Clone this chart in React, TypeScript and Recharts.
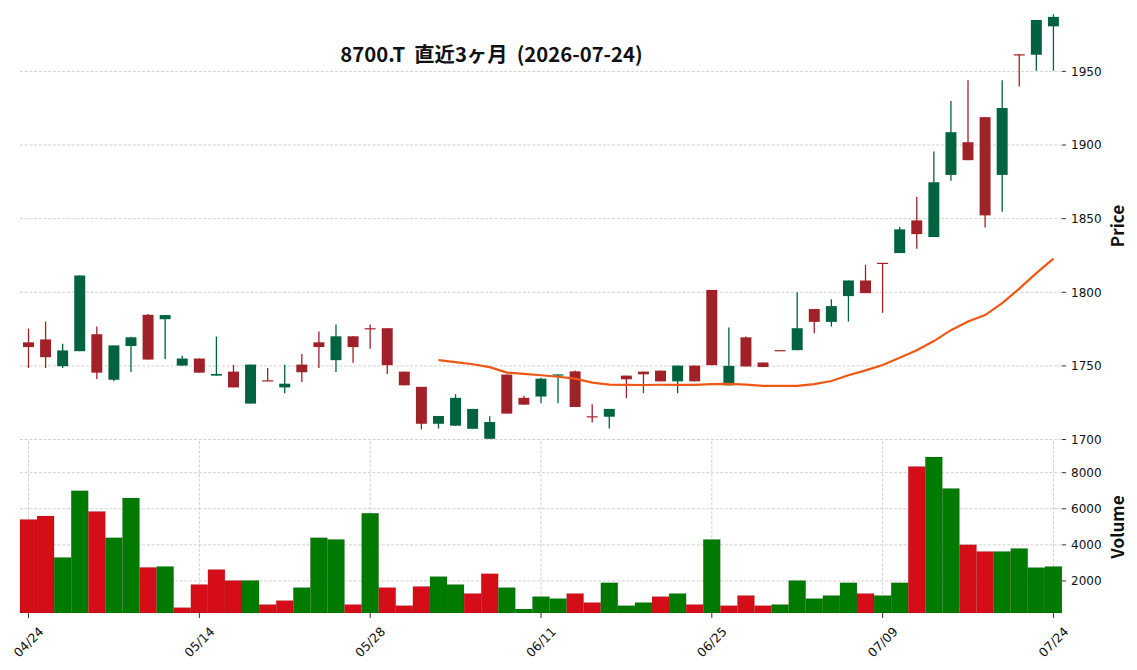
import React from 'react';
import { ComposedChart, BarChart, Bar, Line, XAxis, YAxis, CartesianGrid, Cell } from 'recharts';

const dates = ['04/24','04/27','04/28','04/30','05/01','05/07','05/08','05/11','05/12','05/13','05/14','05/15','05/18','05/19','05/20','05/21','05/22','05/25','05/26','05/27','05/28','05/29','06/01','06/02','06/03','06/04','06/05','06/08','06/09','06/10','06/11','06/12','06/15','06/16','06/17','06/18','06/19','06/22','06/23','06/24','06/25','06/26','06/29','06/30','07/01','07/02','07/03','07/06','07/07','07/08','07/09','07/10','07/13','07/14','07/15','07/16','07/17','07/21','07/22','07/23','07/24'];

const opens = [1766.0,1768.0,1749.8,1760.0,1771.5,1740.6,1763.5,1784.7,1781.7,1750.2,1755.0,1743.4,1746.1,1724.4,1740.2,1735.4,1750.9,1766.0,1753.9,1770.1,1775.6,1775.6,1746.1,1735.8,1710.7,1709.4,1707.3,1700.5,1744.1,1728.3,1729.2,1743.4,1746.3,1715.8,1715.5,1743.4,1746.1,1746.8,1739.5,1750.2,1801.6,1736.8,1769.4,1752.3,1760.7,1760.7,1788.6,1779.9,1797.4,1808.0,1820.0,1826.6,1848.8,1837.5,1879.7,1901.9,1918.9,1879.7,1961.6,1961.3,1980.6];
const highs = [1775.3,1780.1,1765.1,1811.4,1776.7,1763.9,1769.8,1785.2,1784.5,1756.9,1755.0,1769.9,1750.7,1750.9,1748.6,1750.7,1758.0,1773.3,1778.1,1770.1,1778.1,1775.6,1746.1,1735.8,1716.0,1730.8,1720.8,1715.8,1744.1,1729.7,1742.0,1744.2,1746.8,1724.0,1720.8,1743.4,1746.1,1746.8,1750.2,1750.2,1801.6,1776.0,1770.0,1752.3,1760.7,1800.0,1788.6,1795.2,1808.0,1818.7,1820.0,1844.3,1864.7,1895.6,1929.8,1943.9,1918.9,1943.9,1961.6,1984.9,1988.8];
const lows = [1748.6,1748.6,1748.6,1760.0,1741.1,1739.5,1745.9,1754.3,1754.6,1750.2,1745.4,1743.4,1735.4,1724.4,1739.8,1731.5,1739.0,1748.6,1745.9,1752.1,1761.6,1744.5,1736.8,1706.9,1707.5,1709.4,1707.3,1700.5,1717.6,1723.7,1724.7,1724.7,1722.1,1711.6,1707.5,1728.1,1731.5,1739.5,1731.5,1739.5,1750.5,1736.8,1749.6,1749.2,1760.3,1760.7,1772.1,1776.7,1780.1,1799.4,1786.0,1826.6,1829.6,1837.5,1875.8,1889.7,1843.9,1854.7,1939.8,1950.5,1950.5];
const closes = [1762.8,1755.9,1760.5,1811.4,1745.4,1763.9,1769.4,1754.3,1784.5,1755.0,1745.4,1744.5,1735.4,1750.9,1739.8,1737.9,1745.7,1762.8,1770.1,1762.8,1775.3,1750.5,1736.8,1710.7,1716.0,1728.3,1720.8,1711.9,1717.6,1723.7,1741.3,1744.2,1722.1,1715.5,1720.8,1740.9,1744.3,1739.5,1750.2,1739.5,1750.5,1750.0,1749.6,1749.2,1760.3,1775.6,1779.9,1790.6,1808.0,1799.4,1819.7,1842.7,1839.5,1874.7,1908.7,1889.7,1852.2,1925.1,1961.3,1984.9,1987.0];
const volumes = [5400,5600,3300,7000,5850,4400,6600,2750,2800,520,1800,2630,2020,2020,690,910,1630,4400,4300,690,5750,1630,630,1690,2240,1800,1300,2400,1630,445,1130,1020,1300,800,1900,630,800,1130,1300,690,4300,630,1190,630,690,2020,1020,1190,1900,1300,1190,1900,8350,8870,7130,4000,3630,3630,3800,2740,2800];

const priceTicks = [1700, 1750, 1800, 1850, 1900, 1950];
const volumeTicks = [2000, 4000, 6000, 8000];
const PRICE_DOMAIN = [1699, 1991];

const MA_PERIOD = 25;
const UP = '#006340';
const DOWN = '#a02128';
const VUP = '#007a00';
const VDOWN = '#d50d18';
const MA_COLOR = '#ef5714';
const GRID = '#c4c4c4';
const TICK_FONT = 'DejaVu Sans, Verdana, sans-serif';
const LABEL_FONT = '"Noto Sans CJK JP", "Noto Sans", sans-serif';

const rows = dates.map((d, i) => {
  let ma: number | null = null;
  if (i >= MA_PERIOD - 1) {
    let s = 0;
    for (let k = i - MA_PERIOD + 1; k <= i; k++) s += closes[k];
    ma = s / MA_PERIOD;
  }
  const volUp = i === 0 ? closes[0] >= opens[0] : closes[i] >= closes[i - 1];
  return {
    date: d,
    open: opens[i],
    high: highs[i],
    low: lows[i],
    close: closes[i],
    hl: [lows[i], highs[i]],
    ma,
    volume: volumes[i],
    volUp,
  };
});

const volMin = Math.min(...volumes) * 0.5;
const volMax = Math.max(...volumes) * 1.1;

const Candle = (props: any) => {
  const { x, y, width, height, payload } = props;
  if (x == null || y == null || !payload) return null;
  const { open, close, high, low } = payload;
  const color = close >= open ? UP : DOWN;
  const top = Math.min(y, y + height);
  const h = Math.abs(height);
  const span = high - low || 1;
  const py = (v: number) => top + ((high - v) / span) * h;
  const cx = x + width / 2;
  const bw = width * 0.645;
  const bTop = py(Math.max(open, close));
  const bBot = py(Math.min(open, close));
  return (
    <g>
      <line x1={cx} x2={cx} y1={top} y2={top + h} stroke={color} strokeWidth={1.3} />
      <rect x={cx - bw / 2} y={bTop} width={bw} height={Math.max(bBot - bTop, 1.2)} fill={color} />
    </g>
  );
};

const DateTick = (props: any) => {
  const { x, y, payload } = props;
  const cy = y + 22;
  return (
    <text
      x={x}
      y={cy}
      transform={`rotate(-45, ${x}, ${cy})`}
      textAnchor="middle"
      dominantBaseline="central"
      fontSize={12.5}
      fontFamily={TICK_FONT}
      fill="#111"
    >
      {payload.value}
    </text>
  );
};

const yTickStyle = { fontSize: 12, fontFamily: TICK_FONT, fill: '#111' };

export default function App() {
  return (
    <div style={{ position: 'absolute', left: 0, top: 0, width: 1137, height: 670, background: '#fff', overflow: 'hidden' }}>
      <div style={{ position: 'absolute', left: 0, top: 0 }}>
        <ComposedChart width={1137} height={460} data={rows} margin={{ top: 11, right: 0, left: 20, bottom: 19 }} barCategoryGap={0} barGap={0}>
          <CartesianGrid stroke={GRID} strokeDasharray="3 1.7" strokeWidth={0.8} syncWithTicks />
          <XAxis dataKey="date" interval={9} height={0} tick={false} tickLine={false} axisLine={false} />
          <YAxis
            orientation="right"
            width={75}
            type="number"
            domain={PRICE_DOMAIN}
            ticks={priceTicks}
            interval={0}
            allowDataOverflow
            axisLine={false}
            tickSize={4}
            tickMargin={5}
            tickLine={{ stroke: '#333', strokeWidth: 1 }}
            tick={yTickStyle}
          />
          <Bar dataKey="hl" shape={<Candle />} isAnimationActive={false} />
          <Line type="linear" dataKey="ma" stroke={MA_COLOR} strokeWidth={2.2} dot={false} activeDot={false} isAnimationActive={false} />
        </ComposedChart>
      </div>
      <div style={{ position: 'absolute', left: 0, top: 441 }}>
        <BarChart width={1137} height={229} data={rows} margin={{ top: 0, right: 0, left: 20, bottom: 0 }} barCategoryGap={0} barGap={0}>
          <CartesianGrid stroke={GRID} strokeDasharray="3 1.7" strokeWidth={0.8} syncWithTicks />
          <XAxis
            dataKey="date"
            interval={9}
            height={57}
            axisLine={false}
            tickSize={5}
            tickMargin={2}
            tickLine={{ stroke: '#333', strokeWidth: 1 }}
            tick={<DateTick />}
          />
          <YAxis
            orientation="right"
            width={75}
            type="number"
            domain={[volMin, volMax]}
            ticks={volumeTicks}
            interval={0}
            allowDataOverflow
            axisLine={false}
            tickSize={4}
            tickMargin={5}
            tickLine={{ stroke: '#333', strokeWidth: 1 }}
            tick={yTickStyle}
          />
          <Bar dataKey="volume" isAnimationActive={false} stroke="rgba(0,0,0,0.18)" strokeWidth={0.5}>
            {rows.map((r, i) => (
              <Cell key={i} fill={r.volUp ? VUP : VDOWN} />
            ))}
          </Bar>
        </BarChart>
      </div>
      <svg width={1137} height={670} style={{ position: 'absolute', left: 0, top: 0, pointerEvents: 'none' }}>
        <text x={491.5} y={62} textAnchor="middle" fontSize={20.3} fontWeight="bold" fontFamily={LABEL_FONT} fill="#111" style={{ whiteSpace: 'pre' }}>
          {'8700.T  直近3ヶ月  (2026-07-24)'}
        </text>
        <text x={1124} y={226} transform="rotate(-90, 1124, 226)" textAnchor="middle" fontSize={17} fontWeight="bold" fontFamily={LABEL_FONT} fill="#111">
          Price
        </text>
        <text x={1124} y={527} transform="rotate(-90, 1124, 527)" textAnchor="middle" fontSize={17} fontWeight="bold" fontFamily={LABEL_FONT} fill="#111">
          Volume
        </text>
      </svg>
    </div>
  );
}
